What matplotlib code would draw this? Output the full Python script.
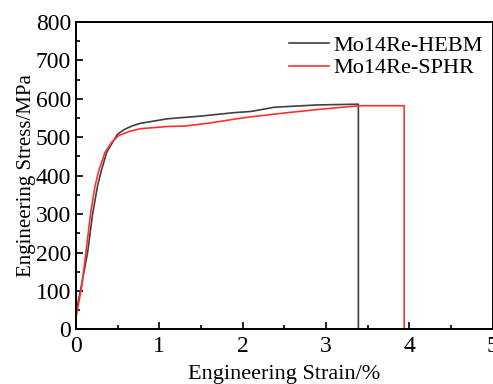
import numpy as np
import matplotlib as mpl
mpl.use('Agg')
import matplotlib.pyplot as plt
from matplotlib.ticker import MultipleLocator

# stress-strain curves
hebm_strain = [0, 0.05, 0.14, 0.20, 0.26, 0.31, 0.37, 0.44, 0.50, 0.58, 0.67,
               0.77, 1.1, 1.5, 1.9, 2.1, 2.38, 2.9, 3.39, 3.39]
hebm_stress = [45, 96, 200, 300, 374, 417, 461, 487, 508, 520, 529,
               536, 548, 555, 564, 567, 578, 584, 586, 0]

sphr_strain = [0, 0.07, 0.12, 0.175, 0.23, 0.28, 0.35, 0.43, 0.51, 0.64, 0.77,
               1.1, 1.3, 1.5, 1.7, 1.9, 2.1, 2.5, 2.9, 3.3, 3.44, 3.94, 3.94]
sphr_stress = [30, 113, 200, 300, 374, 417, 461, 487, 504, 515, 522,
               528, 529, 534, 540, 547, 553, 563, 572, 580, 582, 582, 0]

labels = ['Mo14Re-HEBM', 'Mo14Re-SPHR']

plt.rcParams['font.family'] = ['Liberation Serif', 'DejaVu Serif']

fig = plt.figure(figsize=(4.93, 3.84), dpi=100)
ax = fig.add_axes([0.154, 0.142, 0.845, 0.801])

ax.plot(hebm_strain, hebm_stress, color='#404040', lw=1.2, label=labels[0])
ax.plot(sphr_strain, sphr_stress, color='#ff3030', lw=1.2, label=labels[1])

ax.set_xlim(0, 5)
ax.set_ylim(0, 800)
ax.xaxis.set_major_locator(MultipleLocator(1))
ax.xaxis.set_minor_locator(MultipleLocator(0.5))
ax.yaxis.set_major_locator(MultipleLocator(100))
ax.yaxis.set_minor_locator(MultipleLocator(50))
ax.tick_params(which='both', direction='in', top=False, right=False,
               labelsize=17, width=1.2)
ax.tick_params(axis='x', pad=4.5)
ax.tick_params(axis='y', pad=3.5)
ax.tick_params(which='major', length=5)
ax.tick_params(which='minor', length=3)
for s in ax.spines.values():
    s.set_linewidth(1.4)

ax.set_xlabel('Engineering Strain/%', fontsize=16, labelpad=6)
ax.set_ylabel('Engineering Stress/MPa', fontsize=15, labelpad=0)

ax.legend(loc='upper right', frameon=False, fontsize=16, handlelength=1.8,
          handletextpad=0.2, labelspacing=0.1, borderpad=0, borderaxespad=0,
          bbox_to_anchor=(0.977, 0.957))

plt.savefig('out.png', dpi=100)
